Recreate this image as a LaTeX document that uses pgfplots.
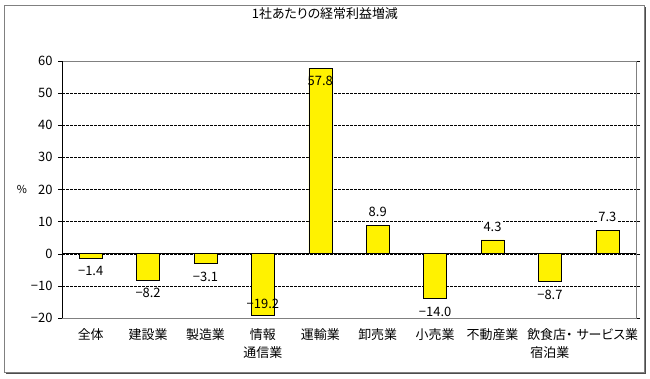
\documentclass[border=0pt]{standalone}
\usepackage{fontspec}
\setmainfont[RawFeature=+palt]{Noto Sans CJK JP}
\usepackage{pgfplots}
\usepackage{pgfplotstable}
\pgfplotsset{compat=1.18}
\pgfplotstableread[col sep=comma]{
x,y,label,shift,op
0,-1.4,−1.4,-13,1
1,-8.2,−8.2,-13,1
2,-3.1,−3.1,-13,1
3,-19.2,−19.2,11.5,0
4,57.8,57.8,-12.5,0
5,8.9,8.9,13,1
6,-14.0,−14.0,-13,1
7,4.3,4.3,13,1
8,-8.7,−8.7,-13,1
9,7.3,7.3,13,1
}\datatable
\begin{document}
\begin{tikzpicture}[x=1bp,y=1bp]
\useasboundingbox (0,0) rectangle (650,378);
\fill[white] (0,0) rectangle (650,378);
% frame with shadow
\draw[gray!60!black,line width=1.5bp] (6,4.5) -- (645.5,4.5) -- (645.5,371);
\draw[gray,line width=0.8bp] (4.5,5.5) rectangle (644.5,372.5);
\begin{axis}[
  at={(62bp,60bp)}, anchor=south west,
  scale only axis, width=574bp, height=257bp,
  xmin=-0.5, xmax=9.5, ymin=-20, ymax=60,
  ybar, bar width=23bp,
  axis line style={gray, line width=0.6bp},
  ytick={-20,-10,0,10,20,30,40,50,60},
  yticklabels={−20,−10,0,10,20,30,40,50,60},
  ymajorgrids, grid style={black, line width=0.5bp, dash pattern=on 2.5bp off 1.5bp},
  tick align=outside, major tick length=4bp,
  ytick style={black, line width=0.5bp},
  xtick={0,...,9},
  xtick style={draw=none},
  xticklabels={全体,建設業,製造業,情報\\通信業,運輸業,卸売業,小売業,不動産業,飲食店・\\宿泊業,サービス業},
  xticklabel style={align=center, anchor=north, yshift=-6bp, font=\fontsize{13}{18}\selectfont, inner sep=0pt},
  yticklabel style={font=\fontsize{13}{13}\selectfont, xshift=-2bp},
  title={1社あたりの経常利益増減},
  title style={at={(axis description cs:0.458,1.16)}, anchor=center, font=\fontsize{13}{13}\selectfont},
  ylabel={\%},
  ylabel style={rotate=-90, at={(axis description cs:-0.07,0.5)}, anchor=center, font=\fontsize{11}{12}\selectfont},
  point meta=explicit symbolic,
  nodes near coords,
  visualization depends on={\thisrow{shift} \as \myshift},
  visualization depends on={\thisrow{op} \as \myop},
  every node near coord/.append style={anchor=center, yshift=\myshift bp, text=black, fill=white, fill opacity=\myop, text opacity=1, inner sep=1bp, font=\fontsize{13}{13}\selectfont},
]
\addplot[fill=yellow, draw=black, line width=0.6bp] table[x=x, y=y, meta=label] {\datatable};
\draw[black, line width=0.6bp] (axis cs:-0.5,0) -- (axis cs:9.5,0);
\draw[black, line width=0.6bp] (rel axis cs:0,0) -- (rel axis cs:0,1);
\end{axis}
\end{tikzpicture}
\end{document}
